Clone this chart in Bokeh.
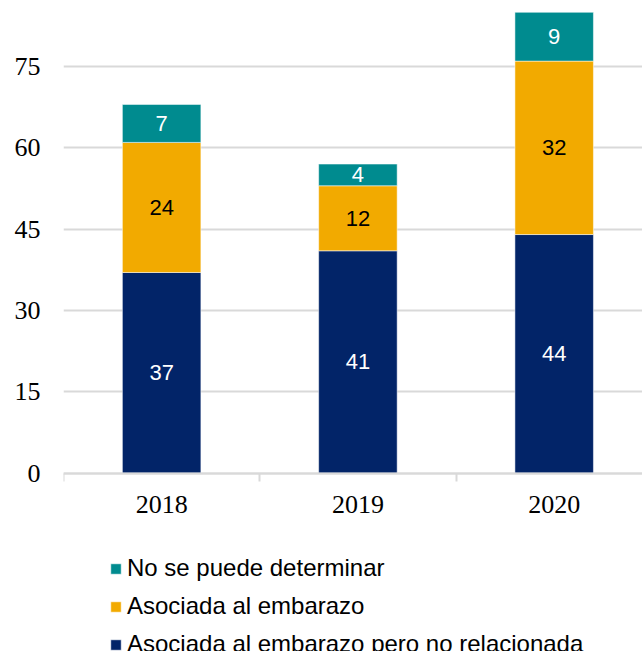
from bokeh.plotting import figure
from bokeh.models import ColumnDataSource, FixedTicker, Range1d, Legend, LegendItem
from bokeh.core.properties import value
from bokeh.embed import file_html
from bokeh.resources import INLINE

years = ["2018", "2019", "2020"]
no_relacionada = [37, 41, 44]
asociada = [24, 12, 32]
no_determinar = [7, 4, 9]
series_names = ["Asociada al embarazo pero no relacionada", "Asociada al embarazo", "No se puede determinar"]
colors = ["#022468", "#F2AA00", "#008B8F"]
label_colors = ["white", "black", "white"]
y_ticks = [0, 15, 30, 45, 60, 75]

xs = [i + 0.5 for i in range(len(years))]
src = ColumnDataSource(dict(x=xs, s0=no_relacionada, s1=asociada, s2=no_determinar))

p = figure(width=642, height=651, output_backend="svg", toolbar_location=None,
           x_range=Range1d(0, 2.95), y_range=Range1d(-32.93, 87.18))
p.min_border_left = 63
p.min_border_right = 0
p.min_border_top = 0
p.min_border_bottom = 0
p.outline_line_color = None
p.background_fill_color = "white"

renderers = p.vbar_stack(["s0", "s1", "s2"], x="x", width=0.4, source=src,
                         color=colors, line_color="white", line_width=0.5)

# segment labels
vals = [no_relacionada, asociada, no_determinar]
base = [0] * len(years)
for k, v in enumerate(vals):
    mids = [b + val / 2 for b, val in zip(base, v)]
    p.text(x=xs, y=mids, text=[str(val) for val in v], text_align="center",
           text_baseline="middle", text_color=label_colors[k],
           text_font=value("Liberation Sans"), text_font_size="22px")
    base = [b + val for b, val in zip(base, v)]

# axes
p.xaxis.fixed_location = 0
p.xaxis.ticker = FixedTicker(ticks=xs, minor_ticks=[0, 1, 2, 3])
p.xaxis.major_label_overrides = {x: y for x, y in zip(xs, years)}
p.xaxis.major_tick_out = 0
p.xaxis.major_tick_in = 0
p.xaxis.minor_tick_out = 8
p.xaxis.minor_tick_in = 0
p.xaxis.minor_tick_line_color = "#d9d9d9"
p.xaxis.minor_tick_line_width = 2
p.xaxis.axis_line_color = "#d9d9d9"
p.xaxis.axis_line_width = 2
p.xaxis.major_label_text_font = "Liberation Serif"
p.xaxis.major_label_text_font_size = "26px"
p.xaxis.major_label_text_color = "black"
p.xaxis.major_label_standoff = 15

p.yaxis.ticker = FixedTicker(ticks=y_ticks)
p.yaxis.axis_line_color = None
p.yaxis.major_tick_line_color = None
p.yaxis.minor_tick_line_color = None
p.yaxis.major_label_text_font = "Liberation Serif"
p.yaxis.major_label_text_font_size = "26px"
p.yaxis.major_label_text_color = "black"
p.yaxis.major_label_standoff = 17

p.xgrid.grid_line_color = None
p.ygrid.grid_line_color = "#d9d9d9"
p.ygrid.grid_line_width = 2

items = [LegendItem(label=series_names[i], renderers=[renderers[i]]) for i in [2, 1, 0]]
legend = Legend(items=items, location=(46, -7), orientation="vertical",
                padding=0, margin=0, spacing=10, label_standoff=5,
                glyph_width=13, glyph_height=13,
                label_text_font="Liberation Sans", label_text_font_size="24px",
                label_text_color="black", border_line_color=None,
                background_fill_alpha=0)
p.add_layout(legend, "center")

open("out.html", "w").write(file_html(p, INLINE))
